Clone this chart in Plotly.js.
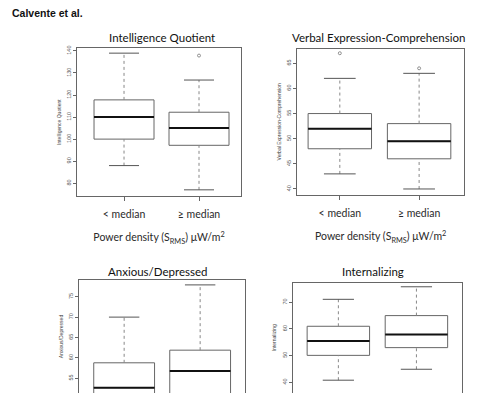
<!DOCTYPE html>
<html>
<head>
<meta charset="utf-8">
<script src="https://cdn.plot.ly/plotly-3.0.1.min.js"></script>
<style>html,body{margin:0;padding:0;background:#fff;}#chart{width:500px;height:393px;}</style>
</head>
<body>
<div id="chart"></div>
<script>
// ---- data ----
const groups = ["< median", "\u2265 median"];
const panelTitles = ["Intelligence Quotient", "Verbal Expression-Comprehension", "Anxious/Depressed", "Internalizing"];
const yTitles = ["Intelligence Quotient", "Verbal Expression-Comprehension", "Anxious/Depressed", "Internalizing"];
const xTitle = "Power density (S<sub>RMS</sub>) \u03bcW/m<sup>2</sup>";

// stats for "< median", "≥ median"
const iqLower  = [88, 77];
const iqQ1     = [100, 97.2];
const iqMedian = [110, 105];
const iqQ3     = [117.8, 112.2];
const iqUpper  = [139, 126.8];
const iqOutX   = [1];
const iqOutY   = [137.9];

const vecLower  = [43, 40];
const vecQ1     = [48, 46];
const vecMedian = [52, 49.5];
const vecQ3     = [55, 53];
const vecUpper  = [62, 63];
const vecOutX   = [0, 1];
const vecOutY   = [67, 64];

const adLower  = [50, 50];
const adQ1     = [50, 50];
const adMedian = [52.7, 56.8];
const adQ3     = [58.8, 61.9];
const adUpper  = [70, 77.9];
const adOutX   = [];
const adOutY   = [];

const inLower  = [40.8, 44.9];
const inQ1     = [50.1, 53];
const inMedian = [55.5, 57.9];
const inQ3     = [61, 65];
const inUpper  = [71.1, 75.8];
const inOutX   = [];
const inOutY   = [];

const yTicks = [
  [80, 90, 100, 110, 120, 130, 140],
  [40, 45, 50, 55, 60, 65],
  [55, 60, 65, 70, 75],
  [40, 50, 60, 70]
];

// ---- layout geometry (pixels in a 500x393 figure) ----
const W = 500, H = 393;
const panels = [
  {stats:[iqLower,iqQ1,iqMedian,iqQ3,iqUpper], outX:iqOutX, outY:iqOutY, px:[77,241], py:[48.3,196], xr:[-0.627,1.56], yr:[74.2,141.2], bottom:true},
  {stats:[vecLower,vecQ1,vecMedian,vecQ3,vecUpper], outX:vecOutX, outY:vecOutY, px:[297,464.3], py:[48.5,195], xr:[-0.54,1.57], yr:[38.8,67.94], bottom:true},
  {stats:[adLower,adQ1,adMedian,adQ3,adUpper], outX:adOutX, outY:adOutY, px:[79.3,245], py:[280,393], xr:[-0.59,1.59], yr:[51.4,79.1], bottom:false},
  {stats:[inLower,inQ1,inMedian,inQ3,inUpper], outX:inOutX, outY:inOutY, px:[292.7,461.7], py:[282.5,393], xr:[-0.585,1.58], yr:[36.0,77.4], bottom:false}
];
const titlePos = [[161.5,37],[378,38],[157,271],[373,271]];

const xs = groups.map((g,i)=>i);
const boxW = 0.8, capHalf = 0.2;
const lineCol = "#666", textCol = "#2a2a2a";

const traces = [];
const layout = {
  width: W, height: H,
  margin: {l:0, r:0, t:0, b:0},
  paper_bgcolor: "#fff", plot_bgcolor: "#fff",
  showlegend: false,
  font: {family: "Liberation Sans, Arial, sans-serif", color: textCol},
  title: {text: "<b>Calvente et al.</b>", x: 12/W, xref: "container", xanchor: "left",
          y: 1 - 13/H, yref: "container", yanchor: "middle",
          font: {family: "Liberation Sans, Arial, sans-serif", size: 10.5, color: "#111"}},
  annotations: []
};

panels.forEach((p, k) => {
  const n = k + 1;
  const xa = "x" + (n === 1 ? "" : n), ya = "y" + (n === 1 ? "" : n);
  const [lo, q1, med, q3, up] = p.stats;
  // box body
  traces.push({
    type: "box", x: xs, q1: q1, median: med, q3: q3,
    lowerfence: q1, upperfence: q3, width: boxW, whiskerwidth: 0,
    fillcolor: "rgba(255,255,255,0)", line: {color: lineCol, width: 1},
    boxpoints: false, hoverinfo: "skip", xaxis: xa, yaxis: ya
  });
  // thick medians
  const mx = [], my = [];
  xs.forEach(i => { mx.push(i - boxW/2, i + boxW/2, null); my.push(med[i], med[i], null); });
  traces.push({type:"scatter", mode:"lines", x:mx, y:my, line:{color:"#111", width:2}, xaxis:xa, yaxis:ya, hoverinfo:"skip"});
  // dotted whiskers
  const wx = [], wy = [];
  xs.forEach(i => { wx.push(i, i, null, i, i, null); wy.push(lo[i], q1[i], null, q3[i], up[i], null); });
  traces.push({type:"scatter", mode:"lines", x:wx, y:wy, line:{color:"#888", width:1, dash:"dot"}, xaxis:xa, yaxis:ya, hoverinfo:"skip"});
  // whisker caps
  const cx = [], cy = [];
  xs.forEach(i => { cx.push(i-capHalf, i+capHalf, null, i-capHalf, i+capHalf, null); cy.push(lo[i], lo[i], null, up[i], up[i], null); });
  traces.push({type:"scatter", mode:"lines", x:cx, y:cy, line:{color:"#555", width:1}, xaxis:xa, yaxis:ya, hoverinfo:"skip"});
  // outliers
  if (p.outX.length) {
    traces.push({type:"scatter", mode:"markers", x:p.outX, y:p.outY,
      marker:{symbol:"circle-open", size:3, color:"#777", line:{width:0.8, color:"#777"}}, xaxis:xa, yaxis:ya, hoverinfo:"skip"});
  }

  const xKey = "xaxis" + (n === 1 ? "" : n), yKey = "yaxis" + (n === 1 ? "" : n);
  const xaxis = {
    domain: [p.px[0]/W, p.px[1]/W], range: p.xr, anchor: ya,
    side: p.bottom ? "bottom" : "top",
    showline: true, linecolor: lineCol, linewidth: 1,
    showgrid: false, zeroline: false, fixedrange: true
  };
  if (p.bottom) {
    Object.assign(xaxis, {
      tickmode: "array", tickvals: xs, ticktext: groups,
      ticks: "outside", ticklen: 4, tickcolor: lineCol,
      ticklabelstandoff: 4, mirror: true,
      tickfont: {family: "Lato, sans-serif", size: 10.5, color: textCol},
      title: {text: xTitle, standoff: 15, font: {family: "Lato, sans-serif", size: 10.5, color: textCol}}
    });
  } else {
    Object.assign(xaxis, {showticklabels: false, ticks: ""});
  }
  layout[xKey] = xaxis;
  layout[yKey] = {
    domain: [1 - p.py[1]/H, 1 - p.py[0]/H], range: p.yr, anchor: xa,
    tickmode: "array", tickvals: yTicks[k], ticks: "outside", ticklen: 3, tickcolor: lineCol,
    tickangle: -90, tickfont: {size: 5.5, color: "#555"},
    showline: true, linecolor: lineCol, linewidth: 1, mirror: true,
    showgrid: false, zeroline: false, fixedrange: true,
    title: {text: yTitles[k], standoff: 4, font: {size: 5, color: "#444"}}
  };
  layout.annotations.push({
    text: panelTitles[k], xref: "paper", yref: "paper",
    x: titlePos[k][0]/W, y: 1 - titlePos[k][1]/H, xanchor: "center", yanchor: "middle",
    showarrow: false, font: {family: "Lato, sans-serif", size: 11.5, color: "#111"}
  });
});

Plotly.newPlot("chart", traces, layout, {displayModeBar: false, staticPlot: true});
</script>
</body>
</html>
